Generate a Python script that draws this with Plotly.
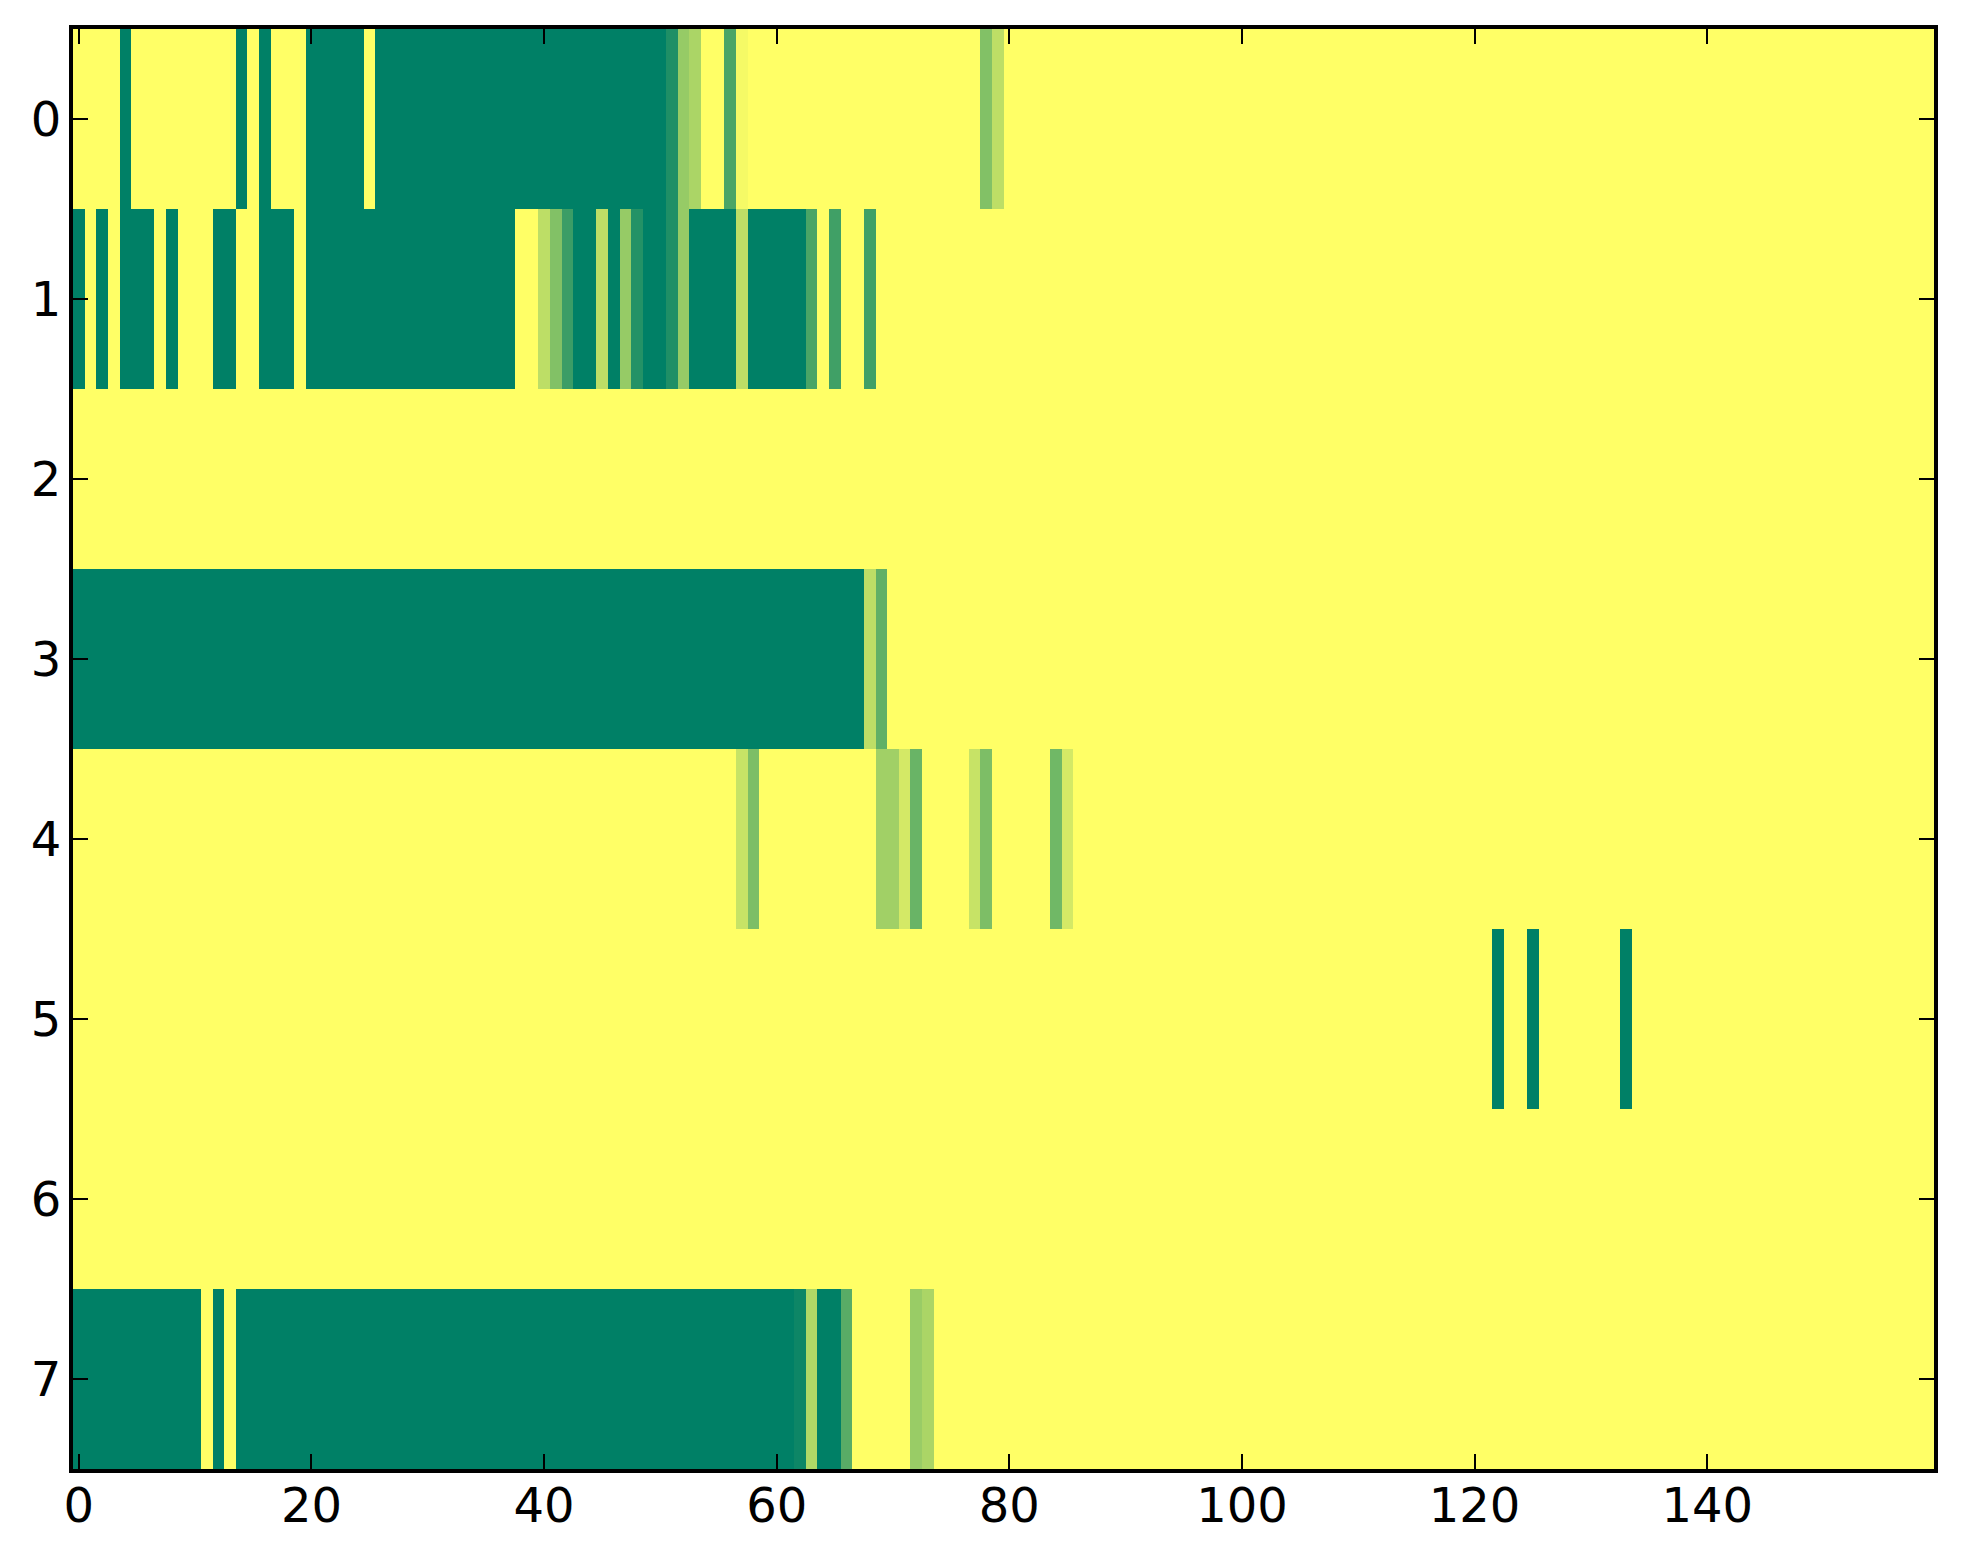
import plotly.graph_objects as go

# rows of the image as (value, run length) pairs, read left to right
row0 = [(1, 4), (0, 1), (1, 9), (0, 1), (1, 1), (0, 1), (1, 3), (0, 5), (1, 1), (0, 25),
        (0.12, 1), (0.59, 1), (0.67, 1), (1, 2), (0.29, 1), (0.96, 1), (1, 20),
        (0.51, 1), (0.74, 1), (1, 80)]
row1 = [(0, 1), (1, 1), (0, 1), (1, 1), (0, 3), (1, 1), (0, 1), (1, 3), (0, 2), (1, 2),
        (0, 3), (1, 1), (0, 18), (1, 2), (0.74, 1), (0.51, 1), (0.23, 1), (0, 2),
        (0.74, 1), (0, 1), (0.59, 1), (0.14, 1), (0, 2), (0.12, 1), (0.59, 1), (0, 4),
        (0.74, 1), (0, 5), (0.29, 1), (1, 1), (0.25, 1), (1, 2), (0.25, 1), (1, 91)]
row2 = [(1, 160)]
row3 = [(0, 68), (0.74, 1), (0.38, 1), (1, 90)]
row4 = [(1, 57), (0.78, 1), (0.49, 1), (1, 10), (0.63, 2), (0.83, 1), (0.41, 1), (1, 4),
        (0.78, 1), (0.49, 1), (1, 5), (0.44, 1), (0.83, 1), (1, 74)]
row5 = [(1, 122), (0, 1), (1, 2), (0, 1), (1, 7), (0, 1), (1, 26)]
row6 = [(1, 160)]
row7 = [(0, 11), (1, 1), (0, 1), (1, 1), (0, 48), (0.05, 1), (0.69, 1), (0, 2),
        (0.35, 1), (1, 5), (0.6, 1), (0.67, 1), (1, 86)]

rows = [row0, row1, row2, row3, row4, row5, row6, row7]
x_ticks = [0, 20, 40, 60, 80, 100, 120, 140]
y_ticks = [0, 1, 2, 3, 4, 5, 6, 7]


def expand(runs):
    out = []
    for v, n in runs:
        out.extend([v] * n)
    return out


z = [expand(r) for r in rows]

# matplotlib "summer" colormap
summer = [[0.0, "rgb(0,128,102)"], [1.0, "rgb(255,255,102)"]]

fig = go.Figure(
    go.Heatmap(
        z=z,
        x=list(range(len(z[0]))),
        y=list(range(len(z))),
        colorscale=summer,
        zmin=0,
        zmax=1,
        showscale=False,
        hoverinfo="skip",
    )
)

axis_style = dict(
    showline=True,
    linewidth=4,
    linecolor="black",
    mirror="ticks",
    ticks="inside",
    ticklen=15,
    tickwidth=2,
    tickcolor="black",
    showgrid=False,
    zeroline=False,
)

# the page body adds an 8px offset, so margins are trimmed by that much on left/top
fig.update_layout(
    width=1963,
    height=1564,
    margin={"l": 65, "r": 37, "t": 21, "b": 103},
    paper_bgcolor="white",
    plot_bgcolor="white",
    font={"family": "DejaVu Sans", "size": 48, "color": "black"},
    xaxis=dict(axis_style, range=[-0.5, 159.5], tickvals=x_ticks, ticklabelstandoff=-9),
    yaxis=dict(axis_style, range=[7.5, -0.5], tickvals=y_ticks, ticklabelstandoff=-2),
)

fig.write_html("out.html")
